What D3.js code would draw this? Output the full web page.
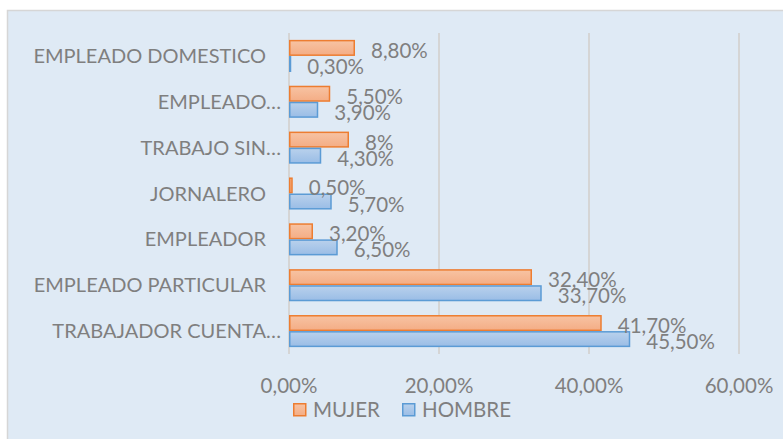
<!DOCTYPE html>
<html>
<head>
<meta charset="utf-8">
<script src="https://cdn.jsdelivr.net/npm/d3@7"></script>
<style>
  body { margin: 0; background: #fff; }
  text { font-family: Lato, "Open Sans", sans-serif; fill: #7f7f7f; }
</style>
</head>
<body>
<svg id="chart" width="783" height="439"></svg>
<script>
// data
var categories = ["EMPLEADO DOMESTICO", "EMPLEADO…", "TRABAJO SIN…", "JORNALERO", "EMPLEADOR", "EMPLEADO PARTICULAR", "TRABAJADOR CUENTA…"];
var mujer = [8.8, 5.5, 8, 0.5, 3.2, 32.4, 41.7];
var hombre = [0.3, 3.9, 4.3, 5.7, 6.5, 33.7, 45.5];
var series = ["MUJER", "HOMBRE"];
var ticks = [0, 20, 40, 60];

var CHART = {
    LEFT: 289,
    RIGHT: 739,
    TOP: 33,
    BOTTOM: 354,
    FONT: 20,
    NUM_FONT: 20.5,
    colors: {
        MUJER: { fill: "url(#gOrange)", stroke: "#ed7d31" },
        HOMBRE: { fill: "url(#gBlue)", stroke: "#5b9bd5" }
    },

    fmt: function (v) {
        if (Number.isInteger(v) && v !== 0) return v + "%";
        return v.toFixed(2).replace(".", ",") + "%";
    },

    draw: function () {
        var svg = d3.select("#chart");

        var defs = svg.append("defs");
        var g1 = defs.append("linearGradient").attr("id", "gOrange").attr("x1", 0).attr("y1", 0).attr("x2", 0).attr("y2", 1);
        g1.append("stop").attr("offset", "0%").attr("stop-color", "#f7c3a3");
        g1.append("stop").attr("offset", "100%").attr("stop-color", "#f4ad85");
        var g2 = defs.append("linearGradient").attr("id", "gBlue").attr("x1", 0).attr("y1", 0).attr("x2", 0).attr("y2", 1);
        g2.append("stop").attr("offset", "0%").attr("stop-color", "#b9d1ec");
        g2.append("stop").attr("offset", "100%").attr("stop-color", "#9abde6");

        // chart area
        svg.append("rect")
            .attr("x", 7.5).attr("y", 10.5)
            .attr("width", 783).attr("height", 440)
            .attr("fill", "#dfeaf5")
            .attr("stroke", "#d6d6d6")
            .attr("stroke-width", 1.5);

        var x = d3.scaleLinear().domain([0, 60]).range([CHART.LEFT, CHART.RIGHT]);
        var y = d3.scaleBand().domain(categories).range([CHART.TOP, CHART.BOTTOM]).paddingInner(0.3).paddingOuter(0.15);
        var ySub = d3.scaleBand().domain(series).range([0, y.bandwidth()]);

        // gridlines
        svg.append("g").selectAll("line").data(ticks).join("line")
            .attr("x1", function (d) { return x(d); })
            .attr("x2", function (d) { return x(d); })
            .attr("y1", CHART.TOP).attr("y2", CHART.BOTTOM)
            .attr("stroke", "#d5d5d5").attr("stroke-width", 2);

        // tick labels
        svg.append("g").selectAll("text").data(ticks).join("text")
            .attr("x", function (d) { return x(d); })
            .attr("y", 393)
            .attr("text-anchor", "middle")
            .attr("font-size", CHART.NUM_FONT)
            .text(function (d) { return d.toFixed(2).replace(".", ",") + "%"; });

        // category labels
        svg.append("g").selectAll("text").data(categories).join("text")
            .attr("x", function (d) { return d.indexOf("…") >= 0 ? CHART.LEFT - 8 : CHART.LEFT - 23; })
            .attr("y", function (d) { return y(d) + y.bandwidth() / 2 + 7; })
            .attr("text-anchor", "end")
            .attr("font-size", CHART.FONT)
            .text(function (d) { return d; });

        var rows = [];
        categories.forEach(function (c, i) {
            rows.push({ cat: c, s: "MUJER", v: mujer[i] });
            rows.push({ cat: c, s: "HOMBRE", v: hombre[i] });
        });

        svg.append("g").selectAll("rect").data(rows).join("rect")
            .attr("x", x(0) + 0.75)
            .attr("y", function (d) { return y(d.cat) + ySub(d.s) + 0.75; })
            .attr("width", function (d) { return Math.max(x(d.v) - x(0) - 1.5, 0.5); })
            .attr("height", ySub.bandwidth() - 1.5)
            .attr("fill", function (d) { return CHART.colors[d.s].fill; })
            .attr("stroke", function (d) { return CHART.colors[d.s].stroke; })
            .attr("stroke-width", 1.5);

        svg.append("g").selectAll("text").data(rows).join("text")
            .attr("x", function (d) { return x(d.v) + 16; })
            .attr("y", function (d) { return y(d.cat) + ySub(d.s) + ySub.bandwidth() / 2 + 10; })
            .attr("font-size", CHART.NUM_FONT)
            .text(function (d) { return CHART.fmt(d.v); });

        // legend
        var lx = [293, 402];
        var lg = svg.append("g").selectAll("g").data(series).join("g")
            .attr("transform", function (d, i) { return "translate(" + lx[i] + ",403)"; });
        lg.append("rect")
            .attr("x", 0.75).attr("y", 0.75).attr("width", 12).attr("height", 12)
            .attr("fill", function (d) { return CHART.colors[d].fill; })
            .attr("stroke", function (d) { return CHART.colors[d].stroke; })
            .attr("stroke-width", 1.5);
        lg.append("text")
            .attr("x", 20).attr("y", 14)
            .attr("font-size", CHART.NUM_FONT)
            .text(function (d) { return d; });
    }
};

CHART.draw();
</script>
</body>
</html>
